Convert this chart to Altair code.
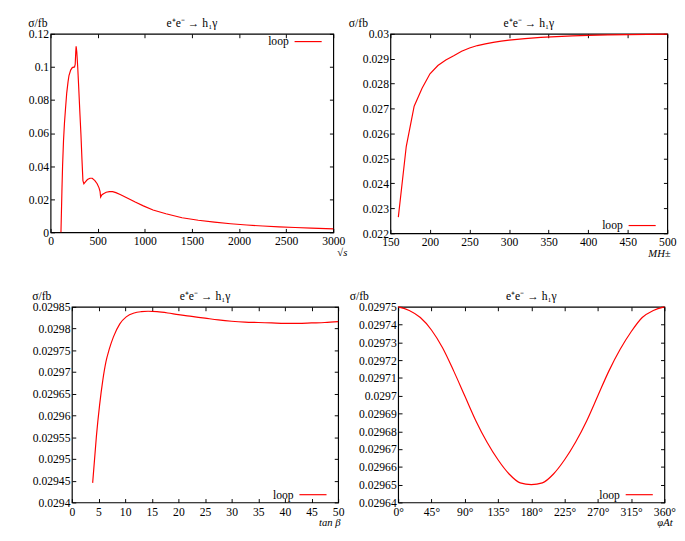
import altair as alt
import pandas as pd

FONT = "Liberation Serif"
RED = "#ff0000"
TITLE = "e⁺e⁻ → h₁γ"
YLABEL = "σ/fb"
LEGEND = "loop"

# ---- panel 1: sigma vs sqrt(s)
p1_x = [110, 120, 127, 137, 147, 158, 171, 185, 195, 213, 230, 254, 261, 267, 271,
        278, 288, 298, 312, 322, 333, 343, 353, 367, 391, 418, 442, 470, 494, 514,
        525, 531, 545, 566, 590, 624, 658, 693, 744, 813, 898, 984, 1087, 1224,
        1395, 1567, 1738, 1910, 2081, 2253, 2424, 2595, 2767, 3000]
p1_y = [0.0, 0.0246, 0.040, 0.0554, 0.066, 0.0746, 0.0842, 0.091, 0.0948, 0.0981,
        0.0996, 0.1000, 0.1015, 0.109, 0.1125, 0.109, 0.0996, 0.088, 0.0708, 0.0592,
        0.0438, 0.0313, 0.0294, 0.0304, 0.0319, 0.0327, 0.0327, 0.0313, 0.0294,
        0.0269, 0.0246, 0.0213, 0.0227, 0.0235, 0.0242, 0.0246, 0.0246, 0.0240,
        0.0227, 0.0208, 0.0183, 0.0160, 0.0135, 0.0112, 0.0088, 0.0073, 0.0062,
        0.0052, 0.0044, 0.0038, 0.0033, 0.0029, 0.0025, 0.0021]
p1_xticks = [0, 500, 1000, 1500, 2000, 2500, 3000]
p1_yticks = [0, 0.02, 0.04, 0.06, 0.08, 0.1, 0.12]

# ---- panel 2: sigma vs M_H+-
p2_x = [160, 170, 180, 190, 200, 210, 220, 230, 240, 250, 260, 270, 280, 290, 300,
        320, 340, 360, 380, 400, 425, 450, 475, 500]
p2_y = [0.02265, 0.02548, 0.02710, 0.02782, 0.02840, 0.02873, 0.02895, 0.02912,
        0.02930, 0.02943, 0.02953, 0.02960, 0.02966, 0.02971, 0.02975, 0.02981,
        0.02986, 0.02989, 0.02992, 0.02994, 0.02996, 0.02997, 0.02998, 0.02999]
p2_xticks = [150, 200, 250, 300, 350, 400, 450, 500]
p2_yticks = [0.022, 0.023, 0.024, 0.025, 0.026, 0.027, 0.028, 0.029, 0.03]

# ---- panel 3: sigma vs tan(beta)
p3_x = [3.9, 4.6, 5.2, 5.8, 6.4, 7.0, 7.8, 9.0, 10.2, 11.7, 13, 14.3, 16, 18, 20,
        22.5, 25, 27.5, 30, 32.5, 35, 37.5, 40, 42.5, 45, 47.5, 50]
p3_y = [0.029445, 0.029552, 0.029624, 0.029681, 0.029724, 0.029752, 0.029781,
        0.029811, 0.029827, 0.029836, 0.029839, 0.029840, 0.029839, 0.029836,
        0.029832, 0.029828, 0.029824, 0.029820, 0.029817, 0.029815, 0.029814,
        0.029813, 0.029812, 0.029812, 0.029813, 0.029814, 0.029816]
p3_xticks = [0, 5, 10, 15, 20, 25, 30, 35, 40, 45, 50]
p3_yticks = [0.0294, 0.02945, 0.0295, 0.02955, 0.0296, 0.02965, 0.0297, 0.02975,
             0.0298, 0.02985]

# ---- panel 4: sigma vs phase of A_t
p4_x = [0, 15, 30, 45, 60, 75, 90, 105, 120, 135, 150, 165, 180, 195, 210, 225,
        240, 255, 270, 285, 300, 315, 330, 345, 360]
p4_y = [0.029750, 0.029748, 0.029744, 0.029737, 0.029727, 0.029714, 0.029700,
        0.029686, 0.029674, 0.029664, 0.029656, 0.029651, 0.029650, 0.029651,
        0.029656, 0.029664, 0.029674, 0.029686, 0.029700, 0.029714, 0.029726,
        0.029736, 0.029744, 0.029748, 0.029750]
p4_xticks = [0, 45, 90, 135, 180, 225, 270, 315, 360]
p4_yticks = [0.02964, 0.02965, 0.02966, 0.02967, 0.02968, 0.02969, 0.0297,
             0.02971, 0.02972, 0.02973, 0.02974, 0.02975]

TICK = 4


def panel(xs, ys, xdom, ydom, xticks, yticks, xtitle, yfmt, W, H, ylab_x,
          legend_top, interp, xtitle_dx, degree=False):
    df = pd.DataFrame({"x": xs, "y": ys})
    xsc = alt.Scale(domain=xdom, nice=False, zero=False)
    ysc = alt.Scale(domain=ydom, nice=False, zero=False)
    # inward ticks on both sides drawn as dashed grid lines
    xkw = dict(values=xticks, format="d", ticks=False, domain=False, grid=True,
               gridColor="black", gridOpacity=1, gridWidth=1,
               gridDash=[TICK, H - 2 * TICK, TICK, 3000],
               labelPadding=4, labelFlush=False, title=xtitle, titleAnchor="end",
               titleAlign="right", titleX=W + xtitle_dx, titleY=15,
               titleBaseline="top", titleFontStyle="italic")
    if degree:
        xkw["labelExpr"] = "datum.label + '°'"
    xaxis = alt.Axis(**xkw)
    yaxis = alt.Axis(values=yticks, format=yfmt, ticks=False, domain=False,
                     grid=True, gridColor="black", gridOpacity=1, gridWidth=1,
                     gridDash=[TICK, W - 2 * TICK, TICK, 3000],
                     labelPadding=2, title=None)
    line = alt.Chart(df).mark_line(color=RED, strokeWidth=1.2, interpolate=interp).encode(
        x=alt.X("x:Q", scale=xsc, axis=xaxis),
        y=alt.Y("y:Q", scale=ysc, axis=yaxis),
    )
    tdf = pd.DataFrame({"t": [TITLE]})
    ydf = pd.DataFrame({"t": [YLABEL]})
    ldf = pd.DataFrame({"t": [LEGEND]})
    title = alt.Chart(tdf).mark_text(font=FONT, fontSize=12, baseline="top",
                                     align="center", color="black").encode(
        text="t:N", x=alt.value(W / 2), y=alt.value(-16))
    ylab = alt.Chart(ydf).mark_text(font=FONT, fontSize=12, baseline="top",
                                    align="left", color="black").encode(
        text="t:N", x=alt.value(ylab_x), y=alt.value(-16))
    ly = 8 if legend_top else H - 8
    ltext = alt.Chart(ldf).mark_text(font=FONT, fontSize=12, baseline="middle",
                                     align="right", color="black").encode(
        text="t:N", x=alt.value(W - 46), y=alt.value(ly))
    lline = alt.Chart(ldf).mark_rule(color=RED, strokeWidth=1.2).encode(
        x=alt.value(W - 40), x2=alt.value(W - 12), y=alt.value(ly))
    return alt.layer(line, title, ylab, ltext, lline).properties(width=W, height=H)


def spacer():
    # zero-size invisible view: lets each row start at its own left bound
    return alt.Chart(pd.DataFrame({"s": [0]})).mark_point(opacity=0, size=0).encode(
        x=alt.value(0), y=alt.value(0)
    ).properties(width=0, height=0, view=alt.ViewBackground(strokeOpacity=0))


c1 = panel(p1_x, p1_y, [0, 3000], [0, 0.12], p1_xticks, p1_yticks, "√s", ".2~f",
           292, 205, -23, True, "linear", 14)
c2 = panel(p2_x, p2_y, [150, 500], [0.022, 0.03], p2_xticks, p2_yticks, "MH±", ".3~f",
           286, 206, -43, False, "linear", 3)
c3 = panel(p3_x, p3_y, [0, 50], [0.0294, 0.02985], p3_xticks, p3_yticks, "tan β",
           ".5~f", 275, 202, -41, False, "monotone", 2)
c4 = panel(p4_x, p4_y, [0, 360], [0.02964, 0.02975], p4_xticks, p4_yticks, "φAt",
           ".5~f", 275, 202, -50, False, "monotone", 8, degree=True)

row1 = alt.hconcat(spacer(), c1, c2, spacing=0)
row2 = alt.hconcat(spacer(), c3, c4, spacing=4)

chart = alt.vconcat(row1, row2, spacing=31).properties(padding=0).configure_view(
    stroke="black", strokeWidth=1.2
).configure_axis(
    labelFont=FONT, labelFontSize=12, labelColor="black",
    titleFont=FONT, titleFontSize=11, titleColor="black", titleFontWeight="normal"
)

chart.save("out.html", embed_options={"renderer": "svg", "actions": False})
